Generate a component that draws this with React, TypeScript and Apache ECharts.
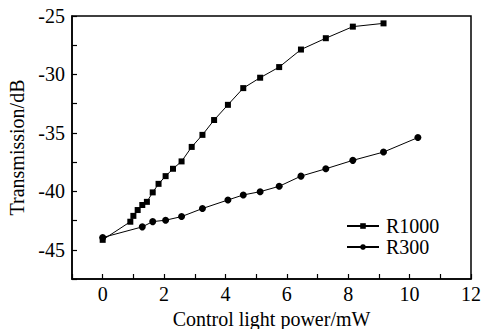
import React, { useEffect, useRef } from "react";
import * as echarts from "echarts";

const r1000X = [0, 0.9, 1.0, 1.14, 1.29, 1.44, 1.63, 1.82, 2.05, 2.29, 2.57, 2.9, 3.25, 3.63, 4.08, 4.58, 5.13, 5.75, 6.46, 7.27, 8.15, 9.15];
const r1000Y = [-44.15, -42.6, -42.1, -41.6, -41.17, -40.9, -40.09, -39.36, -38.7, -38.07, -37.44, -36.2, -35.17, -33.9, -32.6, -31.17, -30.28, -29.37, -27.87, -26.9, -25.91, -25.63];
const r300X = [0, 1.29, 1.63, 2.05, 2.57, 3.25, 4.08, 4.58, 5.13, 5.75, 6.46, 7.27, 8.15, 9.15, 10.27];
const r300Y = [-43.95, -43.04, -42.59, -42.47, -42.16, -41.47, -40.74, -40.31, -40.03, -39.57, -38.7, -38.07, -37.35, -36.64, -35.4];

const FONT = "Liberation Serif";

export default function App() {
  const ref = useRef<HTMLDivElement>(null);
  useEffect(() => {
    const chart = echarts.init(ref.current!, null, { renderer: "svg" });
    const axisCommon = {
      axisTick: { show: true, inside: true, length: 5, lineStyle: { color: "#000", width: 1.2 } },
      splitLine: { show: false },
      axisLabel: { color: "#000", fontFamily: FONT, fontSize: 20 },
      nameTextStyle: { color: "#000", fontFamily: FONT, fontSize: 20 },
    };
    chart.setOption({
      animation: false,
      backgroundColor: "#fff",
      textStyle: { fontFamily: FONT },
      grid: {
        left: 72, top: 16, right: 15, bottom: 50,
        outerBoundsMode: "none",
        containLabel: false,
        show: true, borderColor: "#000", borderWidth: 1.5, backgroundColor: "transparent",
      },
      xAxis: {
        type: "value",
        min: -1,
        max: 12,
        interval: 1,
        name: "Control light power/mW",
        nameLocation: "middle",
        nameGap: 26,
        ...axisCommon,
        axisLine: { show: true, onZero: false, lineStyle: { color: "#000", width: 1.5 } },
        axisLabel: {
          ...axisCommon.axisLabel,
          margin: 5,
          formatter: (v: number) => (v >= 0 && v % 2 === 0 ? String(v) : ""),
        },
      },
      yAxis: {
        type: "value",
        min: -47.5,
        max: -25,
        interval: 2.5,
        name: "Transmission/dB",
        nameLocation: "middle",
        nameGap: 37,
        ...axisCommon,
        axisLine: { show: true, onZero: false, lineStyle: { color: "#000", width: 1.5 } },
        axisLabel: {
          ...axisCommon.axisLabel,
          margin: 7,
          formatter: (v: number) => (v % 5 === 0 ? String(v) : ""),
        },
      },
      legend: {
        orient: "vertical",
        left: 346,
        top: 216,
        padding: 0,
        itemWidth: 32,
        itemHeight: 7,
        itemGap: 1,
        textStyle: { color: "#000", fontFamily: FONT, fontSize: 20, padding: [0, 0, 0, 2] },
        data: ["R1000", "R300"],
      },
      series: [
        {
          name: "R1000",
          type: "line",
          data: r1000X.map((x, i) => [x, r1000Y[i]]),
          symbol: "rect",
          symbolSize: 6,
          itemStyle: { color: "#000" },
          lineStyle: { color: "#000", width: 1 },
        },
        {
          name: "R300",
          type: "line",
          data: r300X.map((x, i) => [x, r300Y[i]]),
          symbol: "circle",
          symbolSize: 7,
          itemStyle: { color: "#000" },
          lineStyle: { color: "#000", width: 1 },
        },
      ],
    });
    return () => chart.dispose();
  }, []);
  return <div ref={ref} style={{ width: 486, height: 329, position: "absolute", left: 0, top: 0 }} />;
}
